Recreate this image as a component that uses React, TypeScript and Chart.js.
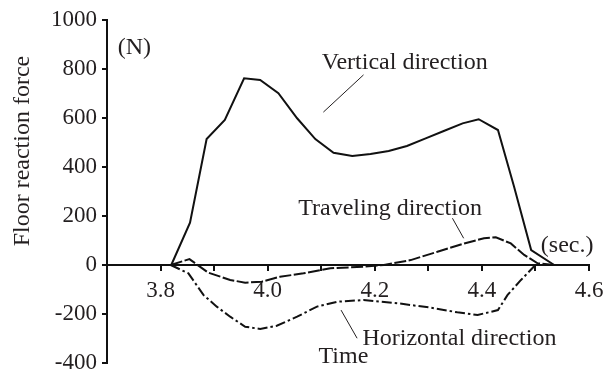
import React, { useEffect, useRef } from "react";
import { Chart, registerables } from "chart.js";

Chart.register(...registerables);

// ---- data (time in seconds, force in N) ----
const verticalTime = [3.82, 3.855, 3.886, 3.92, 3.956, 3.986, 4.02, 4.055, 4.089, 4.123, 4.158, 4.192, 4.226, 4.26, 4.295, 4.33, 4.364, 4.394, 4.43, 4.46, 4.492, 4.535];
const verticalForce = [0, 173, 514, 592, 762, 755, 701, 599, 514, 458, 445, 453, 465, 486, 517, 548, 578, 595, 551, 320, 61, 0];

const travelingTime = [3.819, 3.854, 3.889, 3.93, 3.958, 3.989, 4.023, 4.067, 4.117, 4.18, 4.217, 4.267, 4.317, 4.367, 4.404, 4.426, 4.454, 4.479, 4.504, 4.535];
const travelingForce = [0, 24, -31, -61, -72, -68, -48, -34, -13, -7, 0, 20, 54, 88, 109, 113, 88, 41, 7, 0];

const horizontalTime = [3.819, 3.852, 3.88, 3.905, 3.93, 3.958, 3.986, 4.017, 4.055, 4.092, 4.13, 4.179, 4.242, 4.304, 4.354, 4.392, 4.43, 4.448, 4.473, 4.5];
const horizontalForce = [0, -34, -122, -170, -211, -252, -261, -248, -211, -170, -150, -143, -156, -174, -193, -204, -184, -122, -61, 0];

const xMin = 3.7;
const xMax = 4.6;
const xStep = 0.1;
const yMin = -400;
const yMax = 1000;
const yStep = 200;

const yTitle = "Floor reaction force";
const xUnit = "(sec.)";
const yUnit = "(N)";
const xTitle = "Time";

// annotation labels: [text, t, force] (left, baseline) and leader lines [t1, f1, t2, f2]
const labelTexts = ["Vertical direction", "Traveling direction", "Horizontal direction", xTitle, xUnit, yUnit];
const labelTimes = [4.101, 4.057, 4.177, 4.095, 4.51, 3.72];
const labelForces = [798, 204, -327, -401, 53, 860];
const leaderLines = [
  [4.179, 776, 4.104, 624],
  [4.345, 191, 4.366, 109],
  [4.137, -184, 4.167, -299],
];

const FONT = '"Liberation Serif", "Times New Roman", serif';
const TEXT = "#231f20";

const toPts = (ts: number[], vs: number[]) => ts.map((t, i) => ({ x: t, y: vs[i] }));

const annotate = {
  id: "annotate",
  afterDraw(chart: any) {
    const { ctx, scales } = chart;
    const xs = scales.x;
    const ys = scales.y;
    ctx.save();
    ctx.fillStyle = TEXT;
    ctx.font = `24px ${FONT}`;
    ctx.textAlign = "left";
    ctx.textBaseline = "alphabetic";
    labelTexts.forEach((txt, i) => {
      ctx.fillText(txt, xs.getPixelForValue(labelTimes[i]), ys.getPixelForValue(labelForces[i]));
    });
    ctx.strokeStyle = TEXT;
    ctx.lineWidth = 1;
    leaderLines.forEach(([t1, f1, t2, f2]) => {
      ctx.beginPath();
      ctx.moveTo(xs.getPixelForValue(t1), ys.getPixelForValue(f1));
      ctx.lineTo(xs.getPixelForValue(t2), ys.getPixelForValue(f2));
      ctx.stroke();
    });
    // y-axis title
    ctx.translate(23, ys.getPixelForValue(465));
    ctx.rotate(-Math.PI / 2);
    ctx.textAlign = "center";
    ctx.textBaseline = "middle";
    ctx.fillText(yTitle, 0, 0);
    ctx.restore();
  },
};

export default function App() {
  const ref = useRef<HTMLCanvasElement>(null);
  useEffect(() => {
    if (!ref.current) return;
    const chart = new Chart(ref.current, {
      type: "line",
      data: {
        datasets: [
          {
            label: "Vertical direction",
            data: toPts(verticalTime, verticalForce),
            borderColor: "#111",
            borderWidth: 2,
            pointRadius: 0,
            tension: 0,
            fill: false,
          },
          {
            label: "Traveling direction",
            data: toPts(travelingTime, travelingForce),
            borderColor: "#111",
            borderWidth: 2,
            borderDash: [12, 2.5],
            pointRadius: 0,
            tension: 0,
            fill: false,
          },
          {
            label: "Horizontal direction",
            data: toPts(horizontalTime, horizontalForce),
            borderColor: "#111",
            borderWidth: 2,
            borderDash: [10, 3, 2.5, 3],
            pointRadius: 0,
            tension: 0,
            fill: false,
          },
        ],
      },
      options: {
        animation: false,
        responsive: false,
        devicePixelRatio: 1,
        layout: { padding: { top: 20, right: 15, bottom: 9, left: 0 } },
        plugins: { legend: { display: false }, tooltip: { enabled: false } },
        scales: {
          x: {
            type: "linear",
            position: { y: 0 } as any,
            min: xMin,
            max: xMax,
            afterFit: (s: any) => {
              s.paddingLeft = 0;
              s.paddingRight = 0;
            },
            ticks: {
              stepSize: xStep,
              autoSkip: false,
              maxRotation: 0,
              padding: 7,
              color: TEXT,
              font: { family: FONT, size: 23 },
              callback: (v: any) => {
                const k = Math.round(Number(v) * 10);
                return k % 2 === 0 ? (k / 10).toFixed(1) : "";
              },
            },
            grid: { display: true, drawOnChartArea: false, drawTicks: true, tickLength: 5, color: "#111", lineWidth: 2 },
            border: { display: true, color: "#111", width: 2 },
          },
          y: {
            type: "linear",
            position: "left",
            min: yMin,
            max: yMax,
            afterFit: (s: any) => {
              s.width = 107;
              s.paddingTop = 0;
              s.paddingBottom = 0;
            },
            ticks: {
              stepSize: yStep,
              padding: 5,
              color: TEXT,
              font: { family: FONT, size: 23 },
              callback: (v: any) => String(Math.round(Number(v))),
            },
            grid: { display: true, drawOnChartArea: false, drawTicks: true, tickLength: 5, color: "#111", lineWidth: 2 },
            border: { display: true, color: "#111", width: 2 },
          },
        },
      },
      plugins: [annotate],
    });
    return () => chart.destroy();
  }, []);
  return (
    <div style={{ position: "absolute", left: 0, top: 0, width: 604, height: 372, background: "#fff" }}>
      <canvas ref={ref} width={604} height={372} />
    </div>
  );
}
